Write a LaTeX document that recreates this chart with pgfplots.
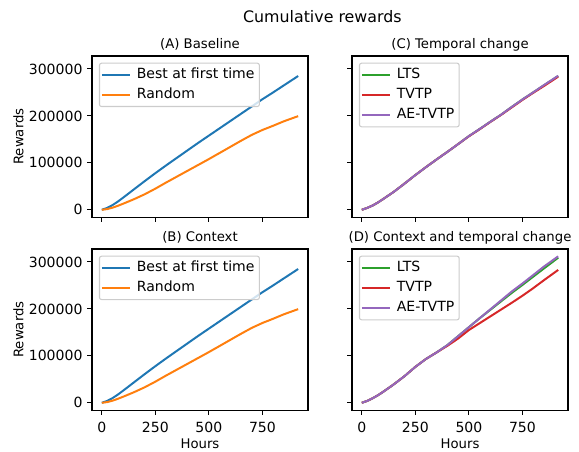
\documentclass[border=0pt]{standalone}
\usepackage{fontspec}
\setmainfont{DejaVu Sans}
\usepackage{pgfplots}
\pgfplotsset{compat=1.18}

\definecolor{c0}{HTML}{1F77B4}
\definecolor{c1}{HTML}{FF7F0E}
\definecolor{c2}{HTML}{2CA02C}
\definecolor{c3}{HTML}{D62728}
\definecolor{c4}{HTML}{9467BD}
\newcommand\basefont{\fontsize{9.53pt}{11.4pt}\selectfont}
\newcommand\tickfont{\fontsize{10.1pt}{12pt}\selectfont}

\pgfplotsset{
  mpl/.style={
    width=155.52pt, height=116pt, scale only axis,
    xmin=-45.85, xmax=962.85, ymin=-15600, ymax=327600,
    xtick={0,250,500,750}, ytick={0,100000,200000,300000},
    tick align=outside, xtick pos=bottom, ytick pos=left,
    major tick length=3.34pt,
    tick style={black, line width=0.76pt},
    axis line style={line width=0.76pt},
    scaled y ticks=false,
    /pgf/number format/fixed,
    /pgf/number format/1000 sep={},
    /pgf/number format/assume math mode=true,
    ticklabel style={font=\tickfont},
    xticklabel style={yshift=-2pt},
    label style={font=\basefont},
    xlabel style={yshift=3pt},
    ylabel shift=-3pt,
    title style={font=\basefont, at={(0.5,1)}, anchor=base, yshift=-0.7pt},
    every axis plot/.append style={line width=1.43pt, line join=round, no markers},
    legend cell align=left,
    legend style={font=\tickfont, at={(0,1)}, anchor=north west,
      xshift=5pt, yshift=-4.8pt, draw=black!20, line width=0.76pt,
      rounded corners=1.5pt, fill=white, fill opacity=0.8, text opacity=1,
      inner xsep=1pt, inner ysep=1pt, column sep=2pt,
      nodes={inner xsep=2.5pt, inner ysep=2.3pt, text height=0.75em, text depth=0.25em}},
    legend image code/.code={\draw[#1] (0pt,0pt) -- (20pt,0pt);},
  },
}

\begin{document}
\begin{tikzpicture}
\useasboundingbox (0,0) rectangle (416.88pt,-325.44pt);

\node[font=\fontsize{11.4pt}{13.7pt}\selectfont, anchor=base] at (232.1pt,-16.3pt) {Cumulative rewards};

% (A) Baseline
\begin{axis}[mpl, at={(66.24pt,-40.32pt)}, anchor=north west,
  title={(A) Baseline}, ylabel={Rewards}, xticklabels={}]
\addplot[c0] coordinates {
(0,0)(25,4000)(50,10000)(75,17500)(100,26000)(150,43500)(200,61000)(250,78000)
(300,94500)(350,110500)(400,126500)(450,142500)(500,158000)(550,173500)(600,189000)
(650,204500)(700,220000)(750,235500)(800,250000)(850,265000)(917,285000)};
\addlegendentry{Best at first time}
\addplot[c1] coordinates {
(0,0)(25,1500)(50,4500)(75,8500)(100,13000)(150,22500)(200,33000)(250,45000)
(300,58000)(350,70500)(400,83000)(450,95500)(500,108000)(550,121000)(600,134000)
(650,147000)(700,159500)(750,170000)(800,179000)(850,188500)(917,199500)};
\addlegendentry{Random}
\end{axis}

% (C) Temporal change
\begin{axis}[mpl, at={(253.44pt,-40.32pt)}, anchor=north west,
  title={(C) Temporal change}, xticklabels={}, yticklabels={}]
\addplot[c2] coordinates {
(0,0)(25,4000)(50,9000)(75,15500)(100,23000)(150,38500)(200,56000)(250,74000)
(300,91000)(350,107500)(400,123500)(450,140000)(500,157000)(550,172000)(600,187500)
(650,202500)(700,219000)(750,235000)(800,250000)(850,265000)(917,285000)};
\addlegendentry{LTS}
\addplot[c3] coordinates {
(0,0)(25,4000)(50,9000)(75,15500)(100,23000)(150,38500)(200,56000)(250,74000)
(300,91000)(350,107500)(400,123500)(450,140000)(500,156500)(550,171500)(600,187000)
(650,202000)(700,218000)(750,234000)(800,249000)(850,263500)(917,283500)};
\addlegendentry{TVTP}
\addplot[c4] coordinates {
(0,0)(25,4000)(50,9000)(75,15500)(100,23000)(150,38500)(200,56000)(250,74000)
(300,91000)(350,107500)(400,123500)(450,140000)(500,157000)(550,172000)(600,187500)
(650,202500)(700,219000)(750,235000)(800,250000)(850,265500)(917,285500)};
\addlegendentry{AE-TVTP}
\end{axis}

% (B) Context
\begin{axis}[mpl, at={(66.24pt,-179.28pt)}, anchor=north west,
  title={(B) Context}, ylabel={Rewards}, xlabel={Hours}]
\addplot[c0] coordinates {
(0,0)(25,4000)(50,10000)(75,17500)(100,26000)(150,43500)(200,61000)(250,78000)
(300,94500)(350,110500)(400,126500)(450,142500)(500,158000)(550,173500)(600,189000)
(650,204500)(700,220000)(750,235500)(800,250000)(850,265000)(917,285000)};
\addlegendentry{Best at first time}
\addplot[c1] coordinates {
(0,0)(25,1500)(50,4500)(75,8500)(100,13000)(150,22500)(200,33000)(250,45000)
(300,58000)(350,70500)(400,83000)(450,95500)(500,108000)(550,121000)(600,134000)
(650,147000)(700,159500)(750,170000)(800,179000)(850,188500)(917,199500)};
\addlegendentry{Random}
\end{axis}

% (D) Context and temporal change
\begin{axis}[mpl, at={(253.44pt,-179.28pt)}, anchor=north west,
  title={(D) Context and temporal change}, xlabel={Hours}, yticklabels={}]
\addplot[c2] coordinates {
(0,0)(25,4000)(50,9500)(75,16000)(100,23500)(150,39500)(200,57000)(250,76500)
(300,93500)(350,107500)(400,123000)(450,142000)(500,161000)(550,180000)(600,198000)
(650,216000)(700,234000)(750,251000)(800,268500)(850,286000)(917,309000)};
\addlegendentry{LTS}
\addplot[c3] coordinates {
(0,0)(25,4000)(50,9500)(75,16000)(100,23500)(150,39500)(200,57000)(250,76500)
(300,93500)(350,107500)(400,121500)(450,137000)(500,155000)(550,169500)(600,184000)
(650,198500)(700,213000)(750,228000)(800,244000)(850,261000)(917,283000)};
\addlegendentry{TVTP}
\addplot[c4] coordinates {
(0,0)(25,4000)(50,9500)(75,16000)(100,23500)(150,39500)(200,57000)(250,76500)
(300,93500)(350,107500)(400,123000)(450,142000)(500,161000)(550,180000)(600,199000)
(650,218000)(700,237000)(750,254000)(800,272000)(850,290000)(917,312000)};
\addlegendentry{AE-TVTP}
\end{axis}
\end{tikzpicture}
\end{document}
